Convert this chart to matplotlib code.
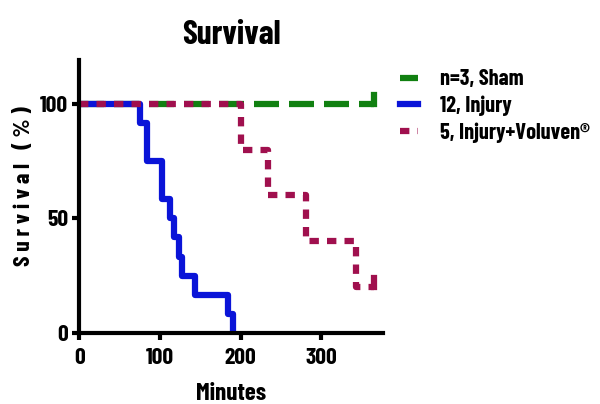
import matplotlib
matplotlib.use("Agg")
import matplotlib.pyplot as plt
from matplotlib.lines import Line2D

plt.rcParams['font.family'] = ['Barlow Condensed', 'Liberation Sans', 'DejaVu Sans']

# Kaplan-Meier step data (minutes, survival %)
sham_t = [0, 365]
sham_s = [100, 100]

injury_t = [0, 75, 84, 102, 112, 118, 123, 127, 143, 184, 190]
injury_s = [100, 91.67, 75, 58.33, 50, 41.67, 33.33, 25, 16.67, 8.33, 0]

vol_t = [0, 201, 234, 281, 343, 365]
vol_s = [100, 80, 60, 40, 20, 20]

labels = ["n=3, Sham", "12, Injury", "5, Injury+Voluven\u00ae"]
colors = ["#118011", "#0a14d8", "#a0104e"]

fig = plt.figure(figsize=(6.0, 4.04), dpi=100)
ax = fig.add_axes([0.132, 0.176, 0.506, 0.675])

lw = 4.5
ax.step(sham_t, sham_s, where='post', color=colors[0], lw=lw, ls=(0, (4, 1.6)))
ax.step(injury_t + [190], injury_s + [0], where='post', color=colors[1], lw=lw)
ax.step(vol_t, vol_s, where='post', color=colors[2], lw=lw, ls=(0, (1.5, 1.3)))

# censor ticks at end of follow-up
ax.plot([sham_t[-1], sham_t[-1]], [sham_s[-1], sham_s[-1] + 4], color=colors[0], lw=lw)
ax.plot([vol_t[-1], vol_t[-1]], [vol_s[-1], vol_s[-1] + 4], color=colors[2], lw=lw)

ax.set_xlim(0, 376)
ax.set_ylim(0, 119)
ax.set_xticks([0, 100, 200, 300])
ax.set_yticks([0, 50, 100])
for s in ['top', 'right']:
    ax.spines[s].set_visible(False)
for s in ['left', 'bottom']:
    ax.spines[s].set_linewidth(3)
ax.tick_params(width=3, length=5, labelsize=17, direction='out', pad=3)
ax.tick_params(axis='x', pad=6)
for lab in ax.get_xticklabels() + ax.get_yticklabels():
    lab.set_fontweight('bold')

ax.set_title("Survival", fontsize=24, fontweight='bold', pad=12)
ax.set_xlabel("Minutes", fontsize=18, fontweight='bold')
ax.xaxis.set_label_coords(0.5, -0.185)
ax.set_ylabel("S u r v i v a l   ( % )", fontsize=17, fontweight='bold')
ax.yaxis.set_label_coords(-0.15, 0.54)

handles = [
    Line2D([], [], color=colors[0], lw=lw, ls=(0, (4, 1.6))),
    Line2D([], [], color=colors[1], lw=lw),
    Line2D([], [], color=colors[2], lw=lw, ls=(0, (1.5, 1.3))),
]
leg = fig.legend(handles, labels, loc='upper left', bbox_to_anchor=(0.652, 0.85),
                 frameon=False, fontsize=16, handlelength=0.8, handletextpad=1.0,
                 labelspacing=0.28, borderaxespad=0)
for t in leg.get_texts():
    t.set_fontweight('bold')

fig.savefig("out.png", dpi=100)
